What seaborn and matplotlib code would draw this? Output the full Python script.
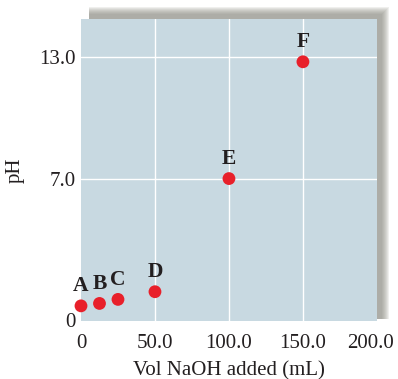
import numpy as np
import pandas as pd
import seaborn as sns
import matplotlib.pyplot as plt
from matplotlib.patches import Rectangle
from matplotlib.transforms import ScaledTranslation

# Titration points
labels = ['A', 'B', 'C', 'D', 'E', 'F']
vol_naoh = [0.0, 12.5, 25.0, 50.0, 100.0, 150.0]
ph = [0.70, 0.82, 1.02, 1.40, 7.00, 12.78]

x_ticks = [0, 50, 100, 150, 200]
x_tick_labels = ['0', '50.0', '100.0', '150.0', '200.0']
y_ticks = [0, 7, 13]
y_tick_labels = ['0', '7.0', '13.0']

data = pd.DataFrame({'label': labels, 'vol': vol_naoh, 'ph': ph})

sns.set_style('white')
plt.rcParams['font.family'] = ['Liberation Serif', 'DejaVu Serif']

fig = plt.figure(figsize=(3.98, 3.79), dpi=100)
ax = fig.add_axes([0.2035, 0.153, 0.7435, 0.797])
ax.set_facecolor('#c8d9e1')

# soft grey drop shadow up and to the right of the plot area
w_px, h_px = 296.0, 302.0
for k in range(8):
    grow = 4.0 - k
    rect = Rectangle((8.0 / w_px, 8.0 / h_px - 6.0 / h_px),
                     1.0 + grow / w_px, 1.0 + (grow + 6.0) / h_px,
                     transform=ax.transAxes, facecolor='#8f8f84',
                     edgecolor='none', alpha=0.14, zorder=-5,
                     clip_on=False)
    fig.patches.append(rect)
    rect.set_figure(fig)

sns.scatterplot(data=data, x='vol', y='ph', ax=ax, color='#e8202a',
                s=85, edgecolor='none', zorder=3, clip_on=False)

for _, row in data.iterrows():
    ax.annotate(row['label'], (row['vol'], row['ph']), xytext=(0, 7),
                textcoords='offset points', ha='center', va='bottom',
                fontsize=15.5, fontweight='bold', color='#231f20')

ax.set_xlim(0, 200)
ax.set_ylim(-0.05, 14.9)
ax.set_xticks(x_ticks)
ax.set_xticklabels(x_tick_labels)
ax.set_yticks(y_ticks)
ax.set_yticklabels(y_tick_labels)
ax.tick_params(axis='both', length=0, labelsize=15, colors='#231f20')
ax.tick_params(axis='x', pad=9)
ax.tick_params(axis='y', pad=4)

# last x label sits a little left so it stays inside the figure
last = ax.get_xticklabels()[-1]
last.set_transform(last.get_transform() +
                   ScaledTranslation(-0.06, 0, fig.dpi_scale_trans))

ax.grid(False)
for v in [50, 100, 150]:
    ax.axvline(v, color='white', lw=1.0, zorder=1)
for v in [7, 13]:
    ax.axhline(v, color='white', lw=1.0, zorder=1)

for sp in ax.spines.values():
    sp.set_visible(False)

ax.set_xlabel('Vol NaOH added (mL)', fontsize=15, color='#231f20', labelpad=6)
ax.set_ylabel('pH', fontsize=15, color='#231f20', labelpad=10)

fig.savefig('out.png', dpi=100)
